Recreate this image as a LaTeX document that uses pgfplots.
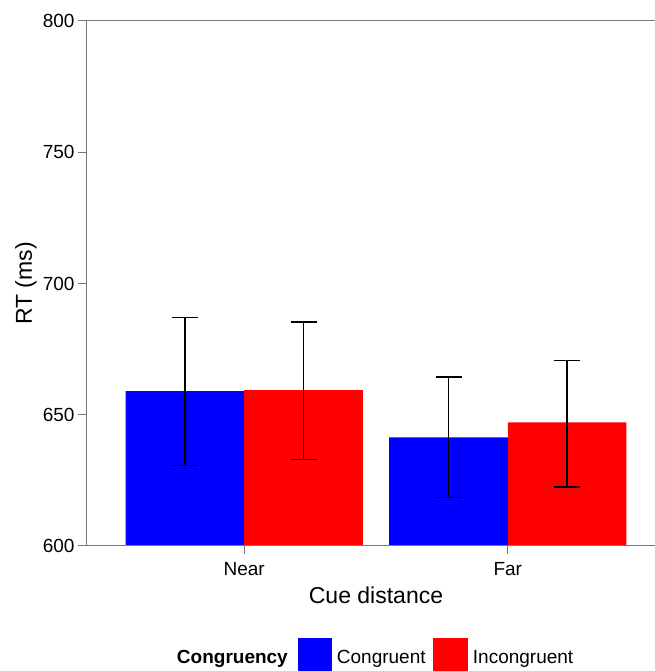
\documentclass[border=0pt]{standalone}
\usepackage{pgfplots}
\pgfplotsset{compat=1.18}
\usepackage{pgfplotstable}
\usepackage{fontspec}
\setmainfont{Liberation Sans}

\pgfplotstableread{
x y ep em
1 659.0 28.0 28.3
2 641.4 23.0 23.0
}\congruent
\pgfplotstableread{
x y ep em
1 659.4 26.0 26.4
2 647.1 23.6 24.6
}\incongruent

\definecolor{axgray}{RGB}{120,120,120}

\begin{document}
\begin{tikzpicture}[x=1pt,y=1pt]
\useasboundingbox (0,0) rectangle (654,671);
\begin{axis}[
  at={(86pt,125pt)}, anchor=south west,
  scale only axis, width=580pt, height=525pt,
  xmin=0.4, xmax=2.6, ymin=600, ymax=800,
  xtick={1,2}, xticklabels={Near,Far},
  ytick={600,650,700,750,800},
  /pgf/number format/assume math mode=true,
  ticklabel style={font=\fontsize{19}{22}\selectfont},
  xticklabel style={yshift=-5pt},
  tick pos=left, tick align=outside, major tick length=8pt,
  tick style={axgray, line width=1pt},
  axis line style={draw=none},
  ybar, bar width=0.45,
  xlabel={Cue distance}, ylabel={RT (ms)},
  every axis x label/.style={at={(axis description cs:0.5,-0.1086)}, anchor=base, font=\fontsize{23}{26}\selectfont},
  every axis y label/.style={at={(axis description cs:-0.1034,0.5)}, rotate=90, anchor=center, font=\fontsize{23}{26}\selectfont},
  clip=true,
]
\addplot[fill={rgb,255:red,0;green,0;blue,255}, draw=none, bar shift=-0.225,
  error bars/.cd, y dir=both, y explicit,
  error bar style={black, line width=1.4pt},
  error mark options={rotate=90, mark size=13pt, line width=1.4pt, black}]
  table[x=x, y=y, y error plus=ep, y error minus=em] {\congruent};
\addplot[fill={rgb,255:red,255;green,0;blue,0}, draw=none, bar shift=0.225,
  error bars/.cd, y dir=both, y explicit,
  error bar style={black, line width=1.4pt},
  error mark options={rotate=90, mark size=13pt, line width=1.4pt, black}]
  table[x=x, y=y, y error plus=ep, y error minus=em] {\incongruent};
\draw[axgray, line width=1pt] (rel axis cs:0,0) -- (rel axis cs:1,0);
\draw[axgray, line width=1pt] (rel axis cs:0,0) -- (rel axis cs:0,1) -- (rel axis cs:1,1);
\end{axis}
\node[anchor=base east, inner sep=0, font=\fontsize{19}{22}\selectfont\bfseries] at (288,7) {Congruency};
\fill[blue] (298,-3) rectangle (332,33);
\node[anchor=base west, inner sep=0, font=\fontsize{19}{22}\selectfont] at (336.7,7) {Congruent};
\fill[red] (433,-3) rectangle (468,33);
\node[anchor=base west, inner sep=0, font=\fontsize{19}{22}\selectfont] at (472.7,7) {Incongruent};
\end{tikzpicture}
\end{document}
